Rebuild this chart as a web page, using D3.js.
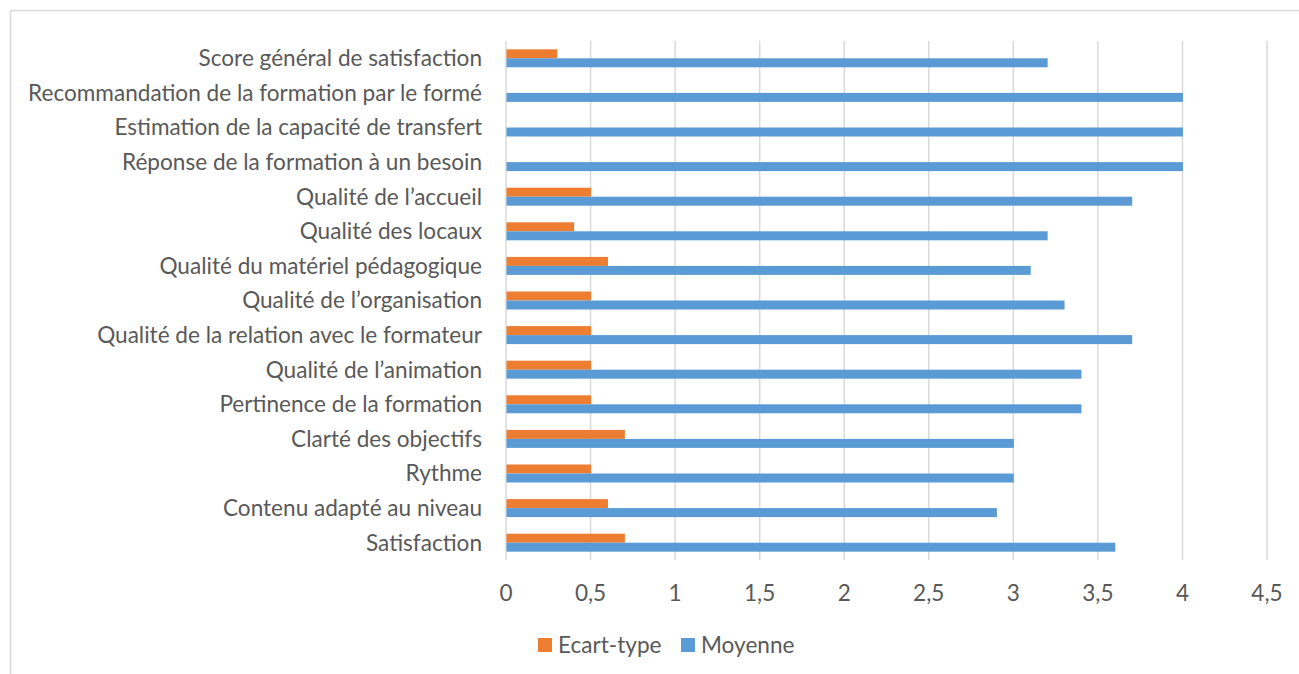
<!DOCTYPE html>
<html>
<head>
<meta charset="utf-8">
<script src="https://cdn.jsdelivr.net/npm/d3@7"></script>
<style>
  body { margin: 0; background: #fff; }
  svg { display: block; }
  text { font-family: Lato, "Open Sans", sans-serif; fill: #595959; }
</style>
</head>
<body>
<svg width="1299" height="674"></svg>
<script>
// categories, top to bottom as shown in the chart
var categories = [
  "Score général de satisfaction",
  "Recommandation de la formation par le formé",
  "Estimation de la capacité de transfert",
  "Réponse de la formation à un besoin",
  "Qualité de l’accueil",
  "Qualité des locaux",
  "Qualité du matériel pédagogique",
  "Qualité de l’organisation",
  "Qualité de la relation avec le formateur",
  "Qualité de l’animation",
  "Pertinence de la formation",
  "Clarté des objectifs",
  "Rythme",
  "Contenu adapté au niveau",
  "Satisfaction"
];
var ecartType = [0.3, 0, 0, 0, 0.5, 0.4, 0.6, 0.5, 0.5, 0.5, 0.5, 0.7, 0.5, 0.6, 0.7];
var moyenne   = [3.2, 4, 4, 4, 3.7, 3.2, 3.1, 3.3, 3.7, 3.4, 3.4, 3.0, 3.0, 2.9, 3.6];
var seriesNames = ["Ecart-type", "Moyenne"];
var seriesColors = ["#ED7D31", "#5B9BD5"];
var ticks = [0, 0.5, 1, 1.5, 2, 2.5, 3, 3.5, 4, 4.5];

var svg = d3.select("svg");

// chart frame (only left and top edges are visible in the picture)
svg.append("rect")
    .attr("x", 10.5).attr("y", 10.5)
    .attr("width", 1300).attr("height", 680)
    .attr("fill", "none")
    .attr("stroke", "#d9d9d9")
    .attr("stroke-width", 1.5);

var x = d3.scaleLinear().domain([0, 4.5]).range([506, 1267]);
var y = d3.scaleBand().domain(categories).range([41, 560]).paddingInner(0.48).paddingOuter(0.24);
var ySub = d3.scaleBand().domain(seriesNames).range([0, y.bandwidth()]);

var data = categories.map(function(c, i) {
    return { name: c, values: [ecartType[i], moyenne[i]] };
});

// vertical gridlines
svg.append("g").selectAll("line")
    .data(ticks)
    .enter().append("line")
    .attr("x1", function(d) { return x(d); })
    .attr("x2", function(d) { return x(d); })
    .attr("y1", 41).attr("y2", 560)
    .attr("stroke", "#d9d9d9")
    .attr("stroke-width", 1.5);

// bars
var groups = svg.append("g").selectAll("g")
    .data(data)
    .enter().append("g")
    .attr("transform", function(d) { return "translate(0," + y(d.name) + ")"; });

groups.selectAll("rect")
    .data(function(d) { return d.values.map(function(v, j) { return { key: seriesNames[j], value: v, j: j }; }); })
    .enter().append("rect")
    .filter(function(d) { return d.value > 0; })
    .attr("x", x(0) + 0.5)
    .attr("y", function(d) { return ySub(d.key); })
    .attr("width", function(d) { return x(d.value) - x(0); })
    .attr("height", ySub.bandwidth())
    .attr("fill", function(d) { return seriesColors[d.j]; });

// category labels
var labels = svg.append("g").selectAll("text")
    .data(categories)
    .enter().append("text")
    .attr("x", 482)
    .attr("y", function(d) { return y(d) + y.bandwidth() / 2; })
    .attr("dy", "0.35em")
    .attr("text-anchor", "end")
    .style("font-size", "18px")
    .text(function(d) { return d; });

// fit font size so the longest label spans like the original
var longest = d3.max(labels.nodes(), function(n) { return n.getComputedTextLength(); });
var fs = 18 * 454 / longest;
labels.style("font-size", fs + "px");

// x tick labels
svg.append("g").selectAll("text")
    .data(ticks)
    .enter().append("text")
    .attr("x", function(d) { return x(d); })
    .attr("y", 593)
    .attr("dy", "0.35em")
    .attr("text-anchor", "middle")
    .style("font-size", fs + "px")
    .text(function(d) { return String(d).replace(".", ","); });

// legend
var legendX = [538, 681];
var legend = svg.append("g").selectAll("g")
    .data(seriesNames)
    .enter().append("g")
    .attr("transform", function(d, i) { return "translate(" + legendX[i] + ",638)"; });
legend.append("rect")
    .attr("width", 14).attr("height", 14)
    .attr("fill", function(d, i) { return seriesColors[i]; });
legend.append("text")
    .attr("x", 20).attr("y", 7)
    .attr("dy", "0.35em")
    .style("font-size", fs + "px")
    .text(function(d) { return d; });
</script>
</body>
</html>
